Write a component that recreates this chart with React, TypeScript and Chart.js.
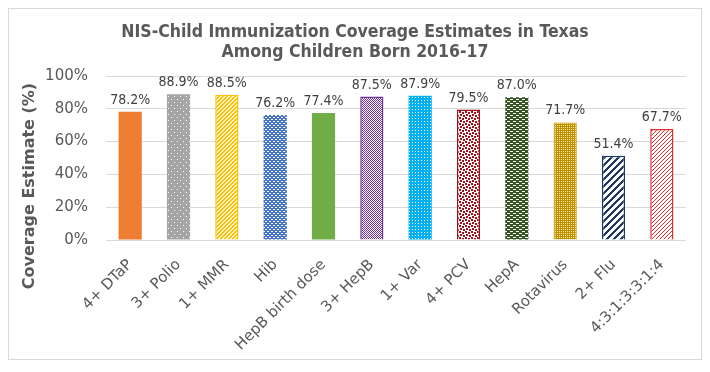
import React, { useEffect, useRef } from "react";
import { Chart, registerables } from "chart.js";

Chart.register(...registerables);

const titleLines = ["NIS-Child Immunization Coverage Estimates in Texas", "Among Children Born 2016-17"];
const yAxisTitle = "Coverage Estimate (%)";
const categories = ["4+ DTaP", "3+ Polio", "1+ MMR", "Hib", "HepB birth dose", "3+ HepB", "1+ Var", "4+ PCV", "HepA", "Rotavirus", "2+ Flu", "4:3:1:3:3:1:4"];
const values = [78.2, 88.9, 88.5, 76.2, 77.4, 87.5, 87.9, 79.5, 87.0, 71.7, 51.4, 67.7];
const yTicks = [0, 20, 40, 60, 80, 100];

type Cell = [number, number, number, number];

function tile(w: number, h: number, bg: string, fg: string, cells: Cell[]) {
  const c = document.createElement("canvas");
  c.width = w;
  c.height = h;
  const x = c.getContext("2d")!;
  x.fillStyle = bg;
  x.fillRect(0, 0, w, h);
  x.fillStyle = fg;
  cells.forEach(([a, b, cw, ch]) => x.fillRect(a, b, cw, ch));
  return x.createPattern(c, "repeat")!;
}

function stripes(n: number, k: number, bg: string, fg: string) {
  const cells: Cell[] = [];
  for (let y = 0; y < n; y++) for (let x = 0; x < n; x++) if ((x + y) % n < k) cells.push([x, y, 1, 1]);
  return tile(n, n, bg, fg, cells);
}

function checker(s: number, bg: string, fg: string) {
  return tile(s * 2, s * 2, bg, fg, [[0, 0, s, s], [s, s, s, s]]);
}

function makeFills() {
  return [
    "#ED7D31",
    tile(6, 6, "#A5A5A5", "#FFFFFF", [[0, 0, 1, 1], [3, 3, 1, 1]]),
    stripes(4, 2, "#FFF2CC", "#FFC000"),
    tile(4, 4, "#4472C4", "#FFFFFF", [[0, 0, 2, 1], [2, 2, 2, 1]]),
    "#70AD47",
    checker(1, "#FFFFFF", "#7030A0"),
    tile(3, 3, "#00B0F0", "#FFFFFF", [[1, 1, 1, 1]]),
    tile(6, 6, "#FFFFFF", "#A50E16", [[0, 0, 2, 2], [3, 1, 2, 2], [1, 3, 2, 2], [4, 4, 2, 2]]),
    tile(6, 4, "#375623", "#FFFFFF", [[0, 0, 3, 1], [3, 2, 3, 1]]),
    tile(2, 2, "#BF9000", "#FFE699", [[0, 0, 1, 1]]),
    stripes(7, 3, "#FFFFFF", "#1F3864"),
    stripes(4, 1, "#FFFFFF", "#E02B2B"),
  ];
}

const borderColors = ["#ED7D31", "#A5A5A5", "#FFC000", "#4472C4", "#70AD47", "#7030A0", "#00B0F0", "#A50E16", "#375623", "#BF9000", "#1F3864", "#E02B2B"];

const textPlugin = {
  id: "texts",
  afterDatasetsDraw(chart: any) {
    const ctx = chart.ctx;
    ctx.save();
    // data labels
    ctx.fillStyle = "#404040";
    ctx.font = "14px 'DejaVu Sans Condensed', 'DejaVu Sans'";
    ctx.textAlign = "center";
    ctx.textBaseline = "alphabetic";
    chart.getDatasetMeta(0).data.forEach((bar: any, i: number) => {
      ctx.fillText(values[i].toFixed(1) + "%", bar.x, bar.y - 8);
    });
    // title
    ctx.fillStyle = "#595959";
    ctx.font = "bold 17.5px 'DejaVu Sans Condensed', 'DejaVu Sans'";
    ctx.fillText(titleLines[0], 346, 28);
    ctx.fillText(titleLines[1], 346, 48);
    // y title
    ctx.translate(21, 177);
    ctx.rotate(-Math.PI / 2);
    ctx.textBaseline = "middle";
    ctx.font = "bold 16px 'DejaVu Sans'";
    ctx.fillText(yAxisTitle, 0, 0);
    ctx.restore();
  },
};

export default function App() {
  const ref = useRef<HTMLCanvasElement>(null);
  useEffect(() => {
    const fills = makeFills();
    const chart = new Chart(ref.current!, {
      type: "bar",
      data: {
        labels: categories,
        datasets: [
          {
            data: values,
            backgroundColor: fills as any,
            borderColor: borderColors,
            borderWidth: [0, 0, 1.5, 0, 0, 1.5, 0, 1.5, 0, 1, 1.5, 1.5],
            categoryPercentage: 1,
            barPercentage: 0.48,
          },
        ],
      },
      options: {
        responsive: false,
        animation: false,
        devicePixelRatio: 1,
        layout: { padding: { top: 67, right: 15, left: 0, bottom: 0 } },
        plugins: { legend: { display: false }, title: { display: false }, tooltip: { enabled: false } },
        scales: {
          y: {
            min: 0,
            max: 100,
            afterBuildTicks: (s: any) => {
              s.ticks = yTicks.map((v) => ({ value: v }));
            },
            afterFit: (s: any) => {
              s.width = 97;
            },
            grid: { color: "#D9D9D9", drawTicks: false, lineWidth: 1 },
            border: { display: false },
            ticks: {
              padding: 18,
              color: "#595959",
              font: { family: "'DejaVu Sans'", size: 15 },
              callback: (v: any) => v + "%",
            },
          },
          x: {
            afterFit: (s: any) => {
              s.height = 119;
            },
            grid: { display: false, drawTicks: false },
            border: { display: false },
            ticks: {
              autoSkip: false,
              minRotation: 45,
              maxRotation: 45,
              padding: 16,
              color: "#595959",
              font: { family: "'DejaVu Sans'", size: 15 },
            },
          },
        },
      },
      plugins: [textPlugin],
    });
    return () => chart.destroy();
  }, []);
  return (
    <div style={{ width: 692, height: 350, border: "1px solid #D9D9D9", background: "#fff" }}>
      <canvas ref={ref} width={692} height={350} style={{ display: "block" }} />
    </div>
  );
}
